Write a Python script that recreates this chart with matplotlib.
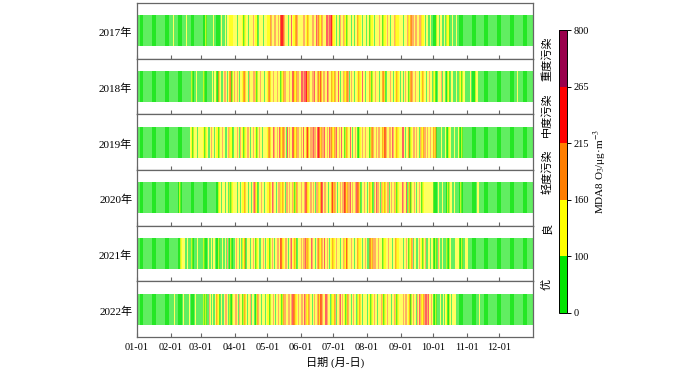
import numpy as np
import matplotlib
matplotlib.use("Agg")
import matplotlib.pyplot as plt
from matplotlib.colors import ListedColormap, BoundaryNorm
from matplotlib.transforms import blended_transform_factory

plt.rcParams['font.family'] = ['Liberation Serif', 'Noto Sans CJK SC']
plt.rcParams['mathtext.fontset'] = 'stix'

# daily air quality level read off the strips, written as runs per month
# g = 优, y = 良, o = 轻度污染, r = 中度污染
years = ['2017年', '2018年', '2019年', '2020年', '2021年', '2022年']

runs_2017 = [
    "g31",
    "g2 y1 g11 y1 g13",
    "g4 y1 g6 y1 g6 y1 g3 y1 g1 y7",
    "y2 g1 y5 g1 y3 g1 y4 o1 y3 g1 y4 g1 y3",
    "y3 o1 y2 o2 y2 o1 y1 r3 o1 y3 g1 y2 r1 y3 o2 y3",
    "y2 o2 y2 o1 y3 o2 y2 r1 o2 y2 o1 y3 r2 o1 r3 y1",
    "y2 g1 y2 g1 o1 y2 o1 y2 g1 y3 g1 y2 g1 y2 o1 y3 g1 y3 g1",
    "y2 g1 y3 g1 y4 o1 y2 g1 y3 o1 y2 g1 y3 o1 y5",
    "y2 g1 y3 o1 y2 o3 y1 o2 y2 o2 y3 g1 y2 g2 y1 g2",
    "g3 y2 g1 y2 g2 y1 g1 y3 g2 y1 g3 y1 g9",
    "g30",
    "g31",
]
runs_2018 = [
    "g31",
    "g19 y1 g3 y1 g4",
    "g2 y1 g7 y1 g1 y2 g2 o1 y1 g2 y1 o2 y1 g1 y1 o2 g1 y1 o1",
    "y2 o1 y1 g1 y3 o2 y2 g1 o1 y3 o2 y1 g1 y2 o1 y3 g1 y2",
    "y1 o2 y2 o1 y3 o1 y2 g1 y2 o2 y3 o1 y2 r1 o1 y2 o2 y2",
    "r2 o1 r3 y1 o1 y2 o2 r1 y2 o2 y1 r1 y1 o2 y2 r1 o1 y2 o1 y1",
    "y1 o1 y2 r1 y1 g1 y2 o1 y2 o2 g1 y1 o1 y2 g1 y3 o1 y2 r1 y2 g1 y1",
    "y2 o1 y1 g1 y2 o1 y3 g1 y2 o2 y1 g1 y3 o1 y2 g1 y2 o1 y2 g1",
    "y2 g1 y1 o1 y2 g1 y1 o2 y2 o1 y3 g1 y2 o1 y2 g1 y2 o1 y2 g1",
    "y2 g2 y3 o1 g1 y2 g2 y2 g1 y2 g3 y1 g2 y2 g1 y2 g2",
    "g3 y1 g4 y2 g20",
    "g16 y1 g14",
]
runs_2019 = [
    "g31",
    "g18 y2 g1 y3 g1 y3",
    "y3 g1 y2 g2 y1 o1 y2 g1 y3 g1 y2 o1 y2 g2 y1 o1 y3 g1 y1",
    "y2 o1 y1 g1 o1 y2 g1 y2 o2 y1 g1 y2 o1 y2 g1 y1 o1 y2 g1 y4",
    "y1 o2 y2 r1 o1 y2 o1 y1 r1 y2 o2 y1 g1 r1 y1 o1 y2 r1 o1 y2 o2 y2",
    "o1 y1 r1 y2 o1 r1 y1 o3 r1 o2 y1 r2 o1 y1 o2 r1 y2 o1 y1 r1 o2 y1",
    "y1 o1 r1 y2 o1 y1 r1 y2 g1 y1 o1 y2 r1 y1 g1 y2 o1 y1 g2 y2 o1 y2 o1 y1",
    "y2 g1 y1 o2 y2 o1 y1 o2 y2 o1 y1 r1 o1 y2 o2 y1 r1 o1 y2 o1 y3",
    "y1 r2 y1 g1 y2 o1 g1 y2 o2 y1 o1 y2 g1 o1 y2 o2 y1 o1 y2 o1 y2",
    "o1 y1 o1 g4 y1 g3 y1 g2 y2 g3 y1 g3 y1 g2 y1 g4",
    "g30",
    "g31",
]
runs_2020 = [
    "g31",
    "g8 y1 g19",
    "g16 y2 g1 y3 g1 y2 g1 y1 g1 y3",
    "y2 g1 y2 g1 y3 o1 y2 g1 y2 g1 y1 o1 r1 y2 g1 y2 o1 y2 g1 y2",
    "y2 o1 y1 r1 o1 y2 g1 y1 o2 y2 o1 y1 g1 o2 y1 o1 y2 o1 y1 g1 y1 o1 y3",
    "o1 y2 o1 r1 o1 y2 o2 y1 o1 y1 g1 o2 y2 o1 r1 y1 o2 y2 g1 y2 o1 r1",
    "y1 o1 y1 g1 y2 o1 y1 o2 r1 o1 y1 o2 r1 y1 o1 y2 o1 r1 o2 y1 g1 y2 o1 y2",
    "g1 y1 o1 y2 g1 o1 y1 r1 o2 y1 g1 o1 y2 o1 y1 o2 g1 y1 o1 y2 o1 y1 g1 y3",
    "y1 r1 o1 y2 r1 g1 y1 o1 g1 y2 o1 y1 g1 y2 o1 y1 g1 y10",
    "g4 y1 g3 y1 g4 y1 g1 y2 g2 y1 g5 y1 g5",
    "g9 y2 g19",
    "g31",
]
runs_2021 = [
    "g31",
    "g9 y4 g2 y1 g3 y1 g4 y1 g3",
    "g2 y1 g3 y1 g2 y1 g1 y2 g3 y1 g2 y1 g2 y1 g1 o1 g2 y1 g3",
    "y1 o1 y2 g1 y1 g1 y2 o1 g1 y3 g1 y2 o1 y1 g1 y2 g2 y2 o1 y1 g1 y1",
    "y2 g1 y1 o1 y1 g1 y2 o2 y1 r1 o1 y2 o2 y1 g1 y1 o1 r1 y2 o1 y1 g1 y3",
    "o1 y1 o2 r1 y1 o1 y2 r1 o1 y2 g1 y1 o2 y2 o1 y1 r1 y2 o1 y1 g1 y2 o1",
    "y2 o1 y3 g1 y2 o1 y2 r1 y3 o1 y2 g1 y2 o1 y3 g1 y2 o1 y1",
    "g2 o2 y1 o3 y2 o1 y3 g1 y4 o1 y3 g1 y2 o1 y4",
    "y2 g1 y2 o1 y1 g1 y2 o1 g1 y2 g2 y1 o1 y2 g1 y1 o1 g2 y2 g1 y2",
    "g2 y1 g1 o1 y1 g2 y1 g3 y1 g2 y1 g4 y4 g2 y1 g2 y2",
    "y1 g29",
    "g31",
]
runs_2022 = [
    "g31",
    "g3 y1 g7 y1 g5 y1 g4 y1 g5",
    "g2 y1 g1 y1 g2 o1 y1 g1 y1 g2 y1 o1 y2 g1 y1 g2 y1 o2 y1 g1 y1 g2 y2",
    "o2 y1 g1 o1 y2 g1 y1 o1 y1 g1 y2 o1 g1 y2 g2 y1 o1 y2 g1 y3 g1 y1",
    "y2 g1 y2 o1 y1 g1 y2 o1 y2 g1 y1 o2 y2 o2 y1 o1 r1 o2 y2 o1 y2",
    "o2 y1 r1 o1 y2 o1 y2 g1 y1 o1 y2 o2 y1 r1 o1 y2 r2 o1 y2 g1 y2",
    "y1 o1 g1 y2 o1 r1 y1 o1 y2 g1 y1 o1 y2 g1 y1 o1 y2 g1 y2 o1 y1 g1 y4",
    "g1 y2 g1 y2 o1 y2 g1 y3 o1 y1 g1 y2 o1 y3 g1 y2 o1 y1 g1 y3",
    "y2 o1 y1 o2 y2 o1 g1 y1 o1 y2 g1 o1 y1 r1 o1 y2 o1 r2 o1 r1 y2 o1 y1",
    "g2 y1 g3 y1 g2 y1 g1 y2 g2 y1 g1 y4 g10",
    "g11 y1 g18",
    "g31",
]
all_runs = [runs_2017, runs_2018, runs_2019, runs_2020, runs_2021, runs_2022]

# typical MDA8 O3 value for each level
level_value = {'g': 70, 'y': 130, 'o': 185, 'r': 240}

bounds = [0, 100, 160, 215, 265, 800]
band_colors = ['#00e400', '#ffff00', '#ff7e00', '#ff0000', '#99004c']
band_names = ['优', '良', '轻度污染', '中度污染', '重度污染']

month_starts = [0, 31, 59, 90, 120, 151, 181, 212, 243, 273, 304, 334]
month_labels = ['01-01', '02-01', '03-01', '04-01', '05-01', '06-01',
                '07-01', '08-01', '09-01', '10-01', '11-01', '12-01']


def expand(month_runs):
    vals = []
    for m in month_runs:
        for tok in m.split():
            vals += [level_value[tok[0]]] * int(tok[1:])
    return np.array(vals)


cmap = ListedColormap(band_colors)
norm = BoundaryNorm(bounds, cmap.N)

fig = plt.figure(figsize=(7, 3.7), dpi=100)

left, width = 137 / 700, 396 / 700
top, bottom = 1 - 3 / 370, 1 - 337 / 370
row_h = (top - bottom) / len(years)
spine_col = '#666666'

for i, (name, runs) in enumerate(zip(years, all_runs)):
    ax = fig.add_axes([left, top - (i + 1) * row_h, width, row_h])
    vals = expand(runs)
    days = np.arange(len(vals))
    ax.bar(days, 0.56, bottom=0.22, width=1.3, align='edge',
           color=cmap(norm(vals)), alpha=0.62, linewidth=0)
    ax.set_xlim(0, 365)
    ax.set_ylim(0, 1)
    ax.set_yticks([])
    ax.set_xticks(month_starts)
    ax.tick_params(axis='x', direction='in', length=3, width=0.8, color=spine_col)
    if i < len(years) - 1:
        ax.set_xticklabels([])
    else:
        ax.set_xticklabels(month_labels, fontsize=7.5)
        ax.tick_params(axis='x', pad=4)
        ax.set_xlabel('日期 (月-日)', fontsize=8, labelpad=4)
    for sp in ax.spines.values():
        sp.set_color(spine_col)
        sp.set_linewidth(0.9)
    ax.text(-0.012, 0.46, name, transform=ax.transAxes, ha='right', va='center',
            fontsize=8)

# colour bar with equal height bands
cax = fig.add_axes([559 / 700, 1 - 313 / 370, 8 / 700, 283 / 370])
sm = plt.cm.ScalarMappable(cmap=cmap, norm=norm)
cb = fig.colorbar(sm, cax=cax, boundaries=bounds, spacing='uniform', ticks=bounds)
cb.ax.tick_params(labelsize=7.5, length=3, width=0.7, pad=1.5)
cb.outline.set_linewidth(0.7)
cb.set_label('MDA8 O$_3$/μg·m$^{-3}$', fontsize=8, labelpad=2)

tr = blended_transform_factory(cax.transAxes, cax.transAxes)
for k, nm in enumerate(band_names):
    cax.text(-1.5, (k + 0.5) / len(band_names), nm, transform=tr, rotation=90,
             ha='center', va='center', fontsize=8)

fig.savefig('out.png', dpi=100)
